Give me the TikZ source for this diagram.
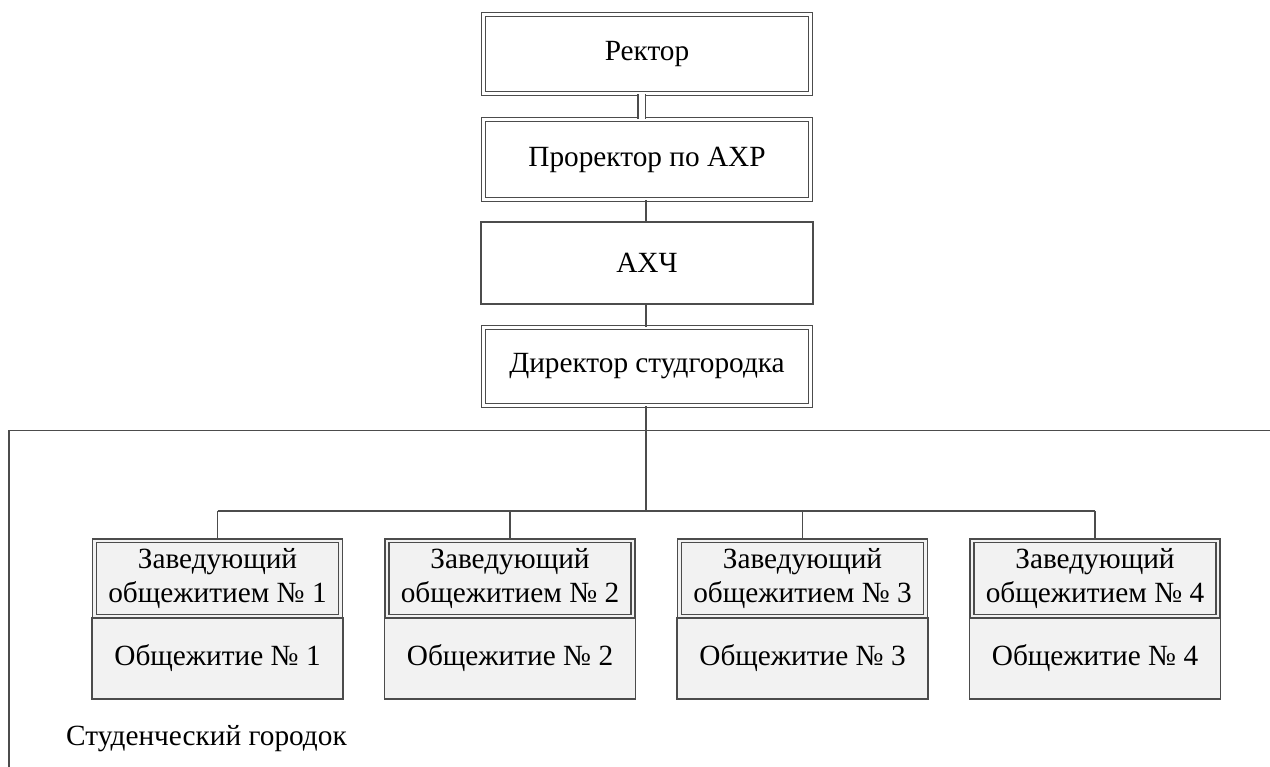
\documentclass[tikz,border=0pt]{standalone}
\usepackage{fontspec}
\setmainfont{Liberation Serif}
\begin{document}
\begin{tikzpicture}[x=1pt,y=-1pt,
  every node/.style={font=\fontsize{29.3}{33.5}\selectfont, inner sep=0pt},
  ln/.style={draw=black!70, line width=1.4pt},
  dbox/.style={ln, double=white, double distance=2.4pt, fill=white, align=center},
  sbox/.style={ln, fill=white, align=center},
  gdbox/.style={ln, double=gray!10, double distance=2.4pt, fill=gray!10, align=center},
  gbox/.style={ln, fill=gray!10, align=center},
  conn/.style={ln},
  dconn/.style={draw=black!70, line width=1.4pt, double=white, double distance=6pt}
]
\useasboundingbox (0,0) rectangle (1270,767);
% frame of the student campus
\draw[ln] (9,770) -- (9,430.5) -- (1275,430.5);
\node[anchor=west] (campus) at (66,739) {Студенческий городок};

\node[dbox, minimum width=327pt, minimum height=79pt] (rector) at (647,54) {Ректор};
\node[dbox, minimum width=327pt, minimum height=80pt] (prorector) at (647,159.5) {Проректор по АХР};
\node[sbox, minimum width=332pt, minimum height=82pt] (ahch) at (647,263) {АХЧ};
\node[dbox, minimum width=327pt, minimum height=78pt] (director) at (647,366.5) {Директор студгородка};

\draw[dconn] ([xshift=-5.5pt]rector.south) -- ([xshift=-5.5pt]prorector.north);
\draw[conn] ([xshift=-1pt]prorector.south) -- ([xshift=-1pt]ahch.north);
\draw[conn] ([xshift=-1pt]ahch.south) -- ([xshift=-1pt]director.north);

\coordinate (bus) at (646,511);
\coordinate (busL) at (217.5,511);
\coordinate (busR) at (1095,511);
\draw[conn] ([xshift=-1pt]director.south) -- (bus);
\draw[conn] (busL) -- (busR);

\foreach \i/\x in {1/217.5, 2/510, 3/802.5, 4/1095}{
  \node[gbox, minimum width=251pt, minimum height=81pt] (dorm\i) at (\x,658.5) {Общежитие № \i};
  \node[gdbox, minimum width=246pt, minimum height=75.5pt] (head\i) at (\x,578.5) {Заведующий\\общежитием № \i};
  \coordinate (drop\i) at (\x,511);
  \draw[conn] (drop\i) -- (head\i.north);
}
\end{tikzpicture}
\end{document}
